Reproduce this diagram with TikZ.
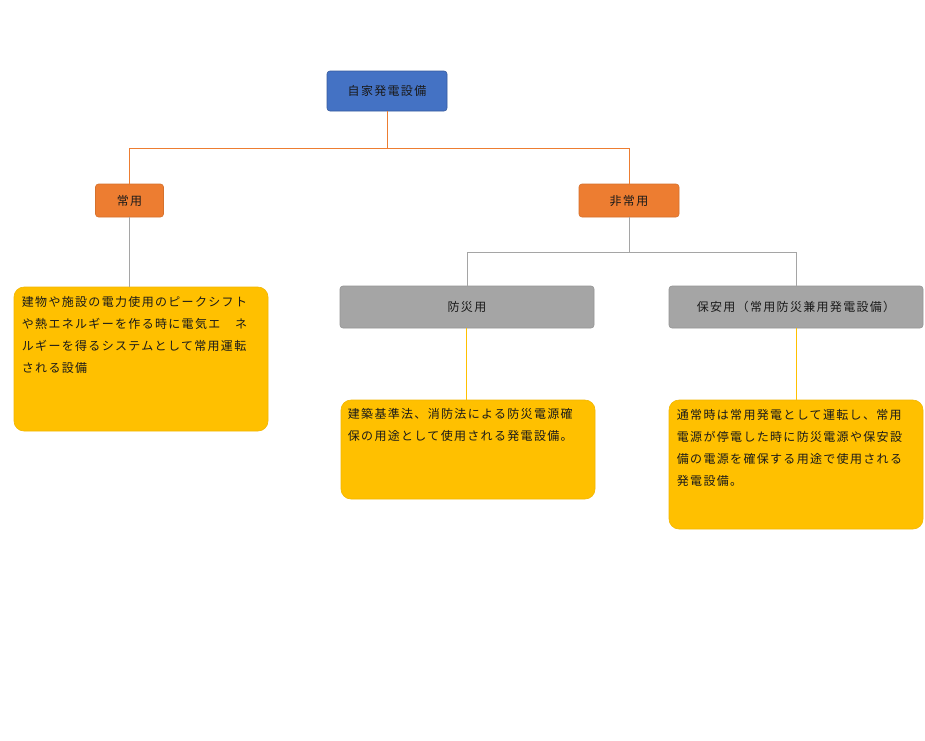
\documentclass[tikz,border=0pt]{standalone}
\usepackage{fontspec}
\newfontfamily\jp[LetterSpace=11]{Noto Sans CJK JP}
\definecolor{cblue}{HTML}{4472C4}
\definecolor{corange}{HTML}{ED7D31}
\definecolor{cgray}{HTML}{A5A5A5}
\definecolor{cyellow}{HTML}{FFC000}
\definecolor{ctext}{HTML}{1A1A1A}
\tikzset{
  box/.style={rounded corners=3pt, inner sep=0pt, font=\jp\fontsize{12}{14}\selectfont, text=ctext},
  topbox/.style={box, fill=cblue, draw=cblue!80!black, line width=0.6pt},
  orbox/.style={box, fill=corange, draw=corange!90!black, line width=0.6pt},
  grbox/.style={box, fill=cgray, draw=cgray!90!black, line width=0.6pt},
  ybox/.style={rounded corners=10pt, fill=cyellow, draw=cyellow!95!black, line width=0.6pt, inner sep=0pt},
  ytext/.style={anchor=north west, inner sep=0pt, align=left, text=ctext, font=\jp\fontsize{12}{22}\selectfont},
  oline/.style={draw=corange, line width=1pt},
  gline/.style={draw=cgray, line width=1pt},
  yline/.style={draw=cyellow, line width=1pt}
}
\begin{document}
\begin{tikzpicture}[x=1pt,y=-1pt]
\useasboundingbox (0,0) rectangle (925,740);
\fill[white] (0,0) rectangle (925,740);
% nodes
\node[topbox, minimum width=120, minimum height=40] (top) at (387,91) {自家発電設備};
\node[orbox, minimum width=68, minimum height=33] (jyoyo) at (129.5,200.5) {常用};
\node[orbox, minimum width=100, minimum height=33] (hijoyo) at (629,200.5) {非常用};
\node[grbox, minimum width=254, minimum height=42] (bosai) at (467,307) {防災用};
\node[grbox, minimum width=254, minimum height=42] (hoan) at (796,307) {保安用（常用防災兼用発電設備）};
\node[ybox, minimum width=254, minimum height=144] (y1) at (141,359) {};
\node[ybox, minimum width=254, minimum height=99] (y2) at (468,449.5) {};
\node[ybox, minimum width=254, minimum height=129] (y3) at (796,464.5) {};
\node[ytext] (t1) at ([xshift=8pt,yshift=-9pt]y1.north west) {建物や施設の電力使用のピークシフト\\や熱エネルギーを作る時に電気エ　ネ\\ルギーを得るシステムとして常用運転\\される設備};
\node[ytext] (t2) at ([xshift=7pt,yshift=-8pt]y2.north west) {建築基準法、消防法による防災電源確\\保の用途として使用される発電設備。};
\node[ytext] (t3) at ([xshift=8pt,yshift=-9pt]y3.north west) {通常時は常用発電として運転し、常用\\電源が停電した時に防災電源や保安設\\備の電源を確保する用途で使用される\\発電設備。};
% connectors
\coordinate (b1) at (387,148);
\coordinate (b2) at (629,252);
\draw[oline] (top.south) -- (b1) -| (jyoyo.north);
\draw[oline] (b1) -| (hijoyo.north);
\draw[gline] (jyoyo.south) -- (jyoyo.south |- y1.north);
\draw[gline] (hijoyo.south) -- (b2) -| (bosai.north);
\draw[gline] (b2) -| (hoan.north);
\draw[yline] ([xshift=-1pt]bosai.south) -- ([xshift=-1pt]bosai.south |- y2.north);
\draw[yline] (hoan.south) -- (hoan.south |- y3.north);
\end{tikzpicture}
\end{document}
